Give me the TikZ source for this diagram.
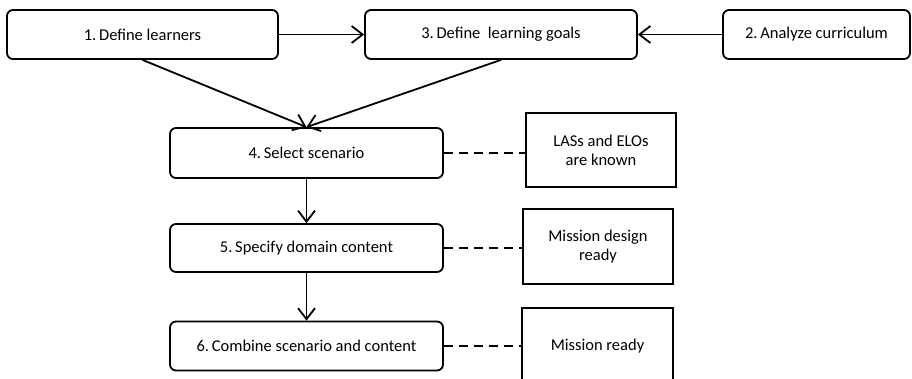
\documentclass[tikz,border=0pt]{standalone}
\usepackage{fontspec}
\setmainfont{Carlito}
\usetikzlibrary{arrows.meta}
\begin{document}
\begin{tikzpicture}[x=1pt,y=-1pt,
  stepbox/.style={draw, line width=1.8pt, rounded corners=6pt, inner sep=0pt, align=center, font=\fontsize{16.5}{19}\selectfont},
  statebox/.style={draw, line width=1.8pt, inner sep=0pt, align=center, font=\fontsize{16.5}{19}\selectfont},
  flow/.style={line width=1.8pt, -{Straight Barb[length=11pt,width=17pt,line width=1.8pt]}},
  link/.style={line width=1.8pt, dash pattern=on 9pt off 6pt}]
\clip (0,0) rectangle (912,378);
\node[stepbox, minimum width=271pt, minimum height=49pt] (b1) at (142.5,34.5) {1.\,Define learners};
\node[stepbox, minimum width=272pt, minimum height=49pt] (b3) at (501,34.5) {3.\,Define\ \ learning goals};
\node[stepbox, minimum width=187pt, minimum height=49pt] (b2) at (816.5,34.5) {2.\,Analyze curriculum};
\node[stepbox, minimum width=273pt, minimum height=50pt] (b4) at (306.5,153) {4.\,Select scenario};
\node[stepbox, minimum width=273pt, minimum height=48pt] (b5) at (306.5,248) {5.\,Specify domain content};
\node[stepbox, minimum width=273pt, minimum height=49pt] (b6) at (306.5,346) {6.\,Combine scenario and content};
\node[statebox, minimum width=150pt, minimum height=74pt] (sa) at (601,150) {LASs and ELOs\\are known};
\node[statebox, minimum width=150pt, minimum height=75pt] (sb) at (598,246.5) {Mission design\\ready};
\node[statebox, minimum width=151pt, minimum height=76pt] (sc) at (597.5,346) {Mission ready};
\draw[flow] (b1) -- (b3);
\draw[flow] (b2) -- (b3);
\draw[flow] (b1.south) -- (b4.north);
\draw[flow] (b3.south) -- (b4.north);
\draw[flow] (b4) -- (b5);
\draw[flow] (b5) -- (b6);
\draw[link] (b4.east) -- (b4.east -| sa.west);
\draw[link] (b5.east) -- (b5.east -| sb.west);
\draw[link] (b6.east) -- (b6.east -| sc.west);
\end{tikzpicture}
\end{document}
